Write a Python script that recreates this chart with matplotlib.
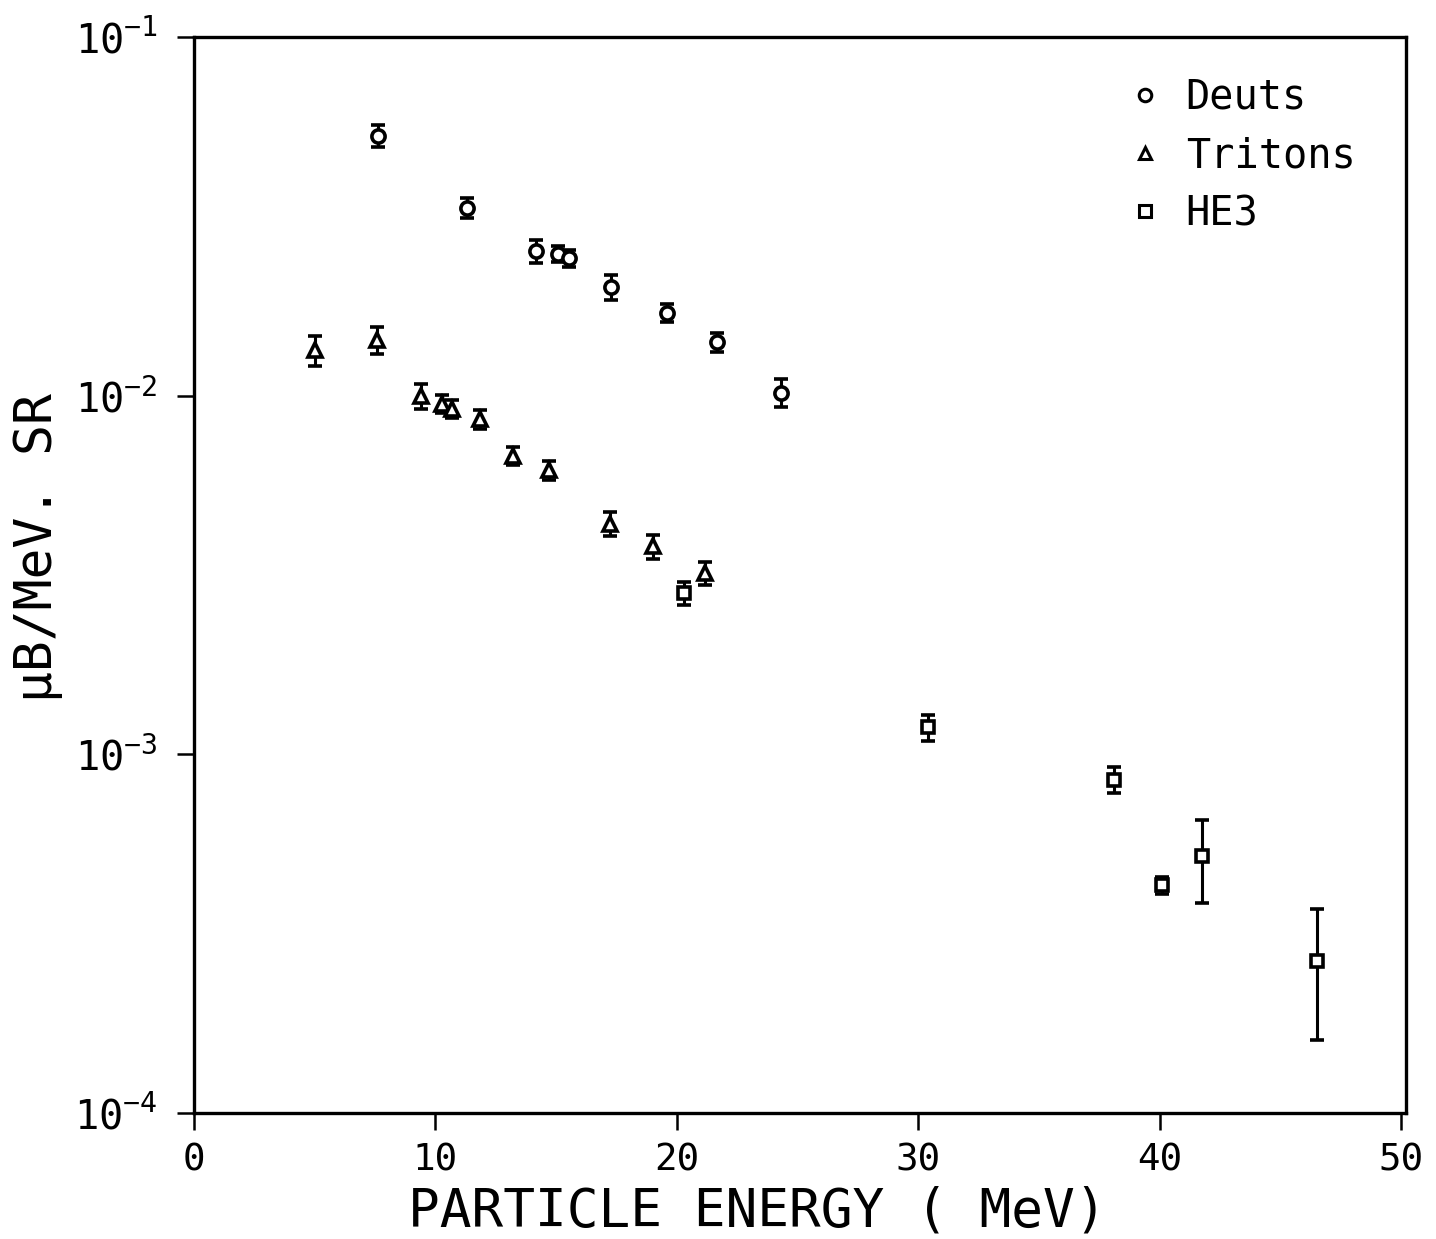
import matplotlib
matplotlib.use('Agg')
import matplotlib.pyplot as plt
from matplotlib.lines import Line2D
from matplotlib.ticker import NullLocator, FixedLocator

plt.rcParams['font.family'] = ['DejaVu Sans Mono', 'DejaVu Sans']

# Deuts
deut_e = [7.62, 11.3, 14.16, 15.07, 15.53, 17.27, 19.59, 21.66, 24.31]
deut_y = [0.0530, 0.0334, 0.0253, 0.0249, 0.0242, 0.0201, 0.0170, 0.0141, 0.0102]
deut_err = [0.0037, 0.0022, 0.0019, 0.0013, 0.0013, 0.0016, 0.0010, 0.0009, 0.0009]

# Tritons
trit_e = [5.01, 7.58, 9.4, 10.27, 10.68, 11.84, 13.21, 14.7, 17.23, 19.0, 21.16]
trit_y = [0.0134, 0.0143, 0.0100, 0.0095, 0.0092, 0.0086, 0.0068, 0.0062, 0.0044, 0.0038, 0.0032]
trit_err = [0.0013, 0.00125, 0.0008, 0.00057, 0.00055, 0.00052, 0.00041, 0.00037, 0.00035, 0.0003, 0.00023]

# HE3
he3_e = [20.29, 30.4, 38.1, 40.1, 41.75, 46.5]
he3_y = [0.00282, 0.00119, 0.000849, 0.000432, 0.000521, 0.000265]
he3_err = [0.00021, 0.0001, 0.00007, 0.000023, 0.000136, 0.000105]

legend_names = ['Deuts', 'Tritons', 'HE3']
markers = ['o', '^', 's']

fig = plt.figure(figsize=(14.36, 12.39), dpi=100)
ax = fig.add_axes([194/1436, 1 - 1113/1239, (1406 - 194)/1436, (1113 - 37)/1239])

sets = [(deut_e, deut_y, deut_err), (trit_e, trit_y, trit_err), (he3_e, he3_y, he3_err)]
sizes = [9.5, 9.5, 8.5]
for (xs, ys, es), m, ms in zip(sets, markers, sizes):
    ax.errorbar(xs, ys, yerr=es, fmt=m, ms=ms, mfc='white', mec='black', mew=2.6,
                ecolor='black', elinewidth=2.2, capsize=5, capthick=2.4, zorder=3)

ax.set_yscale('log')
ax.set_ylim(1e-4, 1e-1)
ax.set_xlim(0, 50.2)
ax.xaxis.set_major_locator(FixedLocator([0, 10, 20, 30, 40, 50]))
ax.yaxis.set_minor_locator(NullLocator())

for s in ax.spines.values():
    s.set_linewidth(2.4)

ax.tick_params(axis='both', direction='out', length=12, width=1.8)
ax.tick_params(axis='y', pad=14, labelsize=29)
ax.tick_params(axis='x', pad=9, labelsize=27)

ax.set_xlabel('PARTICLE ENERGY ( MeV)', fontsize=38)
ax.xaxis.set_label_coords(0.4645, -0.067)
ax.set_ylabel('μB/MeV. SR', fontsize=37)
ax.yaxis.set_label_coords(-0.108, 0.525)

handles = [Line2D([], [], ls='none', marker=m, ms=9, mfc='white', mec='black', mew=2.2)
           for m in markers]
ax.legend(handles, legend_names, loc='upper left', bbox_to_anchor=(0.775, 0.962),
          frameon=False, fontsize=29, handlelength=0.6, handletextpad=0.7,
          labelspacing=0.45, borderpad=0, borderaxespad=0)

plt.savefig('out.png', dpi=100)
